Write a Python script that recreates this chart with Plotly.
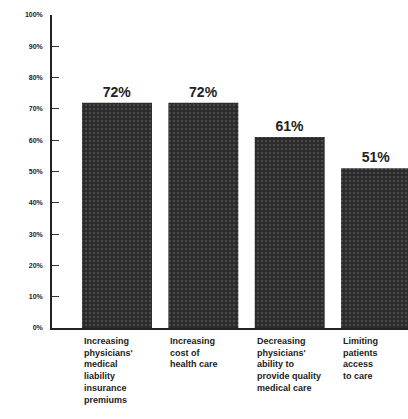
import plotly.graph_objects as go

categories = ["Increasing<br>physicians'<br>medical<br>liability<br>insurance<br>premiums",
              "Increasing<br>cost of<br>health care",
              "Decreasing<br>physicians'<br>ability to<br>provide quality<br>medical care",
              "Limiting<br>patients<br>access<br>to care"]
values = [72, 72, 61, 51]
value_labels = ["<b>72%</b>", "<b>72%</b>", "<b>61%</b>", "<b>51%</b>"]
tick_vals = [0, 10, 20, 30, 40, 50, 60, 70, 80, 90, 100]
tick_text = ["<b>0%</b>", "<b>10%</b>", "<b>20%</b>", "<b>30%</b>", "<b>40%</b>", "<b>50%</b>",
             "<b>60%</b>", "<b>70%</b>", "<b>80%</b>", "<b>90%</b>", "<b>100%</b>"]

xs = list(range(len(values)))
bw = 0.81
FONT = "Liberation Sans Narrow, Arial Narrow, Liberation Sans"

fig = go.Figure()
fig.add_trace(go.Bar(
    x=xs, y=values, width=bw,
    marker=dict(color="#2b2b2b", line=dict(width=0),
                pattern=dict(shape=".", fgcolor="#7a7a7a", bgcolor="#2b2b2b", size=4, solidity=0.22)),
    text=value_labels, textposition="outside", cliponaxis=False,
    textfont=dict(family=FONT, size=14, color="#222"),
))

for i, c in enumerate(categories):
    fig.add_annotation(x=i - bw / 2, y=0, xref="x", yref="y", text="<b>" + c + "</b>",
                       xanchor="left", yanchor="top", align="left", yshift=-6, showarrow=False,
                       font=dict(family=FONT, size=9, color="#222"))

fig.update_layout(
    width=408, height=419,
    margin=dict(l=52, r=0, t=15, b=91),
    plot_bgcolor="white", paper_bgcolor="white",
    showlegend=False,
    xaxis=dict(range=[-0.753, 3.37], showticklabels=False, ticks="", showgrid=False, zeroline=False,
               showline=True, linecolor="#222", linewidth=1.5),
    yaxis=dict(range=[0, 100], tickvals=tick_vals, ticktext=tick_text, ticks="inside", ticklen=7,
               tickcolor="#333", tickwidth=1.2, showgrid=False, zeroline=False,
               showline=True, linecolor="#222", linewidth=1.5, ticklabelstandoff=6,
               tickfont=dict(family=FONT, size=7, color="#222")),
)

fig.write_html("out.html")
